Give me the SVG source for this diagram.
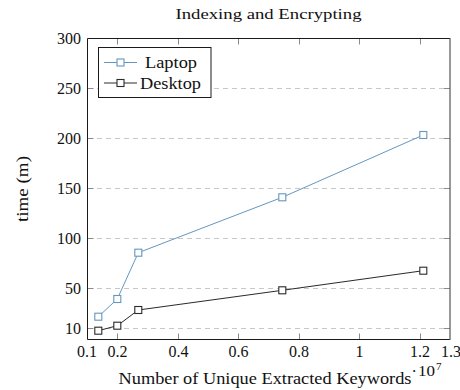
<svg xmlns="http://www.w3.org/2000/svg" width="460" height="390" viewBox="0 0 460 390">
<style>
text{font-family:"Liberation Serif","DejaVu Serif",serif;font-size:16px;fill:#111}
.yt{text-anchor:end}
.xt{text-anchor:middle}
.grid{stroke:#c8c8c8;stroke-width:1;stroke-dasharray:5 4;fill:none}
.tick{stroke:#8a8a8a;stroke-width:1}
.lap{stroke:#6596bf;stroke-width:1;fill:none}
.desk{stroke:#2a2a2a;stroke-width:1;fill:none}
.mlap{stroke:#6596bf;stroke-width:1.1;fill:#fff}
.mdesk{stroke:#2a2a2a;stroke-width:1.1;fill:#fff}
</style>
<rect width="460" height="390" fill="#fff"/>
<text x="268.5" y="18.5" class="xt" textLength="186" lengthAdjust="spacingAndGlyphs" style="font-size:15px">Indexing and Encrypting</text>
<g id="grid">
<line class="grid" x1="88" y1="88.5" x2="449" y2="88.5"/>
<line class="grid" x1="88" y1="138.5" x2="449" y2="138.5"/>
<line class="grid" x1="88" y1="188.5" x2="449" y2="188.5"/>
<line class="grid" x1="88" y1="238.5" x2="449" y2="238.5"/>
<line class="grid" x1="88" y1="288.5" x2="449" y2="288.5"/>
<line class="grid" x1="88" y1="328.5" x2="449" y2="328.5"/>
</g>
<g id="ticks">
<path class="tick" d="M87.5 88.5h6M87.5 138.5h6M87.5 188.5h6M87.5 238.5h6M87.5 288.5h6M87.5 328.5h6M450 88.5h-6M450 138.5h-6M450 188.5h-6M450 238.5h-6M450 288.5h-6M450 328.5h-6"/>
<path class="tick" d="M117.5 38.5v6M178.5 38.5v6M238.5 38.5v6M299.5 38.5v6M359.5 38.5v6M420.5 38.5v6M117.5 339.5v-6M178.5 339.5v-6M238.5 339.5v-6M299.5 339.5v-6M359.5 339.5v-6M420.5 339.5v-6"/>
</g>
<g id="axes">
<path d="M87.5 38.5H450M87.5 38.5V339.5H450" stroke="#1a1a1a" stroke-width="1" fill="none"/>
<line x1="450" y1="38" x2="450" y2="340" stroke="#555" stroke-width="1.2"/>
</g>
<g id="yticklabels">
<text class="yt" x="81" y="44">300</text>
<text class="yt" x="81" y="94">250</text>
<text class="yt" x="81" y="144">200</text>
<text class="yt" x="81" y="194">150</text>
<text class="yt" x="81" y="244">100</text>
<text class="yt" x="81" y="294">50</text>
<text class="yt" x="81" y="334">10</text>
</g>
<g id="xticklabels">
<text class="xt" x="87" y="356.5">0.1</text>
<text class="xt" x="117.5" y="356.5">0.2</text>
<text class="xt" x="178.5" y="356.5">0.4</text>
<text class="xt" x="238.5" y="356.5">0.6</text>
<text class="xt" x="299" y="356.5">0.8</text>
<text class="xt" x="359.5" y="356.5">1</text>
<text class="xt" x="420" y="356.5">1.2</text>
<text class="xt" x="451" y="356.5">1.3</text>
</g>
<text x="118.5" y="384" textLength="293" lengthAdjust="spacingAndGlyphs">Number of Unique Extracted Keywords</text>
<text x="411.5" y="377">·</text>
<text x="418" y="375.5" textLength="17" lengthAdjust="spacingAndGlyphs" style="font-size:14px">10</text>
<text x="436" y="370" style="font-size:11px">7</text>
<text transform="translate(27.5 189) rotate(-90)" class="xt" textLength="66" lengthAdjust="spacingAndGlyphs">time (m)</text>
<g id="series-laptop">
<polyline class="lap" points="98.3,316.7 117.3,299 138.3,252.7 282.3,197.3 423.3,135"/>
<g class="mlap">
<rect x="94.8" y="313.2" width="7" height="7"/>
<rect x="113.8" y="295.5" width="7" height="7"/>
<rect x="134.8" y="249.2" width="7" height="7"/>
<rect x="278.8" y="193.8" width="7" height="7"/>
<rect x="419.8" y="131.5" width="7" height="7"/>
</g>
</g>
<g id="series-desktop">
<polyline class="desk" points="98.3,330.7 117.3,325.7 138.3,310 282.3,290.3 423.3,270.7"/>
<g class="mdesk">
<rect x="94.8" y="327.2" width="7" height="7"/>
<rect x="113.8" y="322.2" width="7" height="7"/>
<rect x="134.8" y="306.5" width="7" height="7"/>
<rect x="278.8" y="286.8" width="7" height="7"/>
<rect x="419.8" y="267.2" width="7" height="7"/>
</g>
</g>
<g id="legend">
<rect x="98.5" y="47.5" width="112.5" height="50" fill="#fff" stroke="#1a1a1a" stroke-width="1"/>
<line class="lap" x1="104" y1="62.5" x2="137" y2="62.5"/>
<rect class="mlap" x="117" y="59" width="7" height="7"/>
<text x="145" y="67.5" textLength="52" lengthAdjust="spacingAndGlyphs">Laptop</text>
<line class="desk" x1="104" y1="83" x2="137" y2="83"/>
<rect class="mdesk" x="117" y="79.5" width="7" height="7"/>
<text x="140" y="88.5" textLength="61" lengthAdjust="spacingAndGlyphs">Desktop</text>
</g>
</svg>
